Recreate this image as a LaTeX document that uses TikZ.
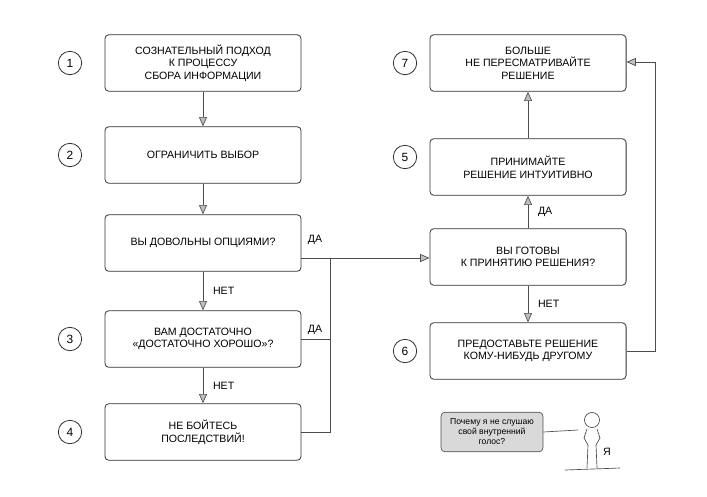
\documentclass[tikz,border=0pt]{standalone}
\usepackage{fontspec}
\setmainfont{Liberation Sans}
\usetikzlibrary{arrows.meta}

\begin{document}
\begin{tikzpicture}[x=0.0265cm, y=-0.0265cm, thick,
	box/.style={draw=black!80, rounded corners=3pt, minimum width=5.2cm, minimum height=1.5cm, align=center, font=\footnotesize, line width=0.6pt},
	num/.style={draw=black!80, circle, minimum size=0.62cm, inner sep=0pt, font=\small, line width=0.6pt},
	lbl/.style={font=\footnotesize},
	arr/.style={-{Triangle[open, fill=black!25, length=7pt, width=6pt]}, draw=black!70, line width=0.5pt},
	ln/.style={draw=black!70, line width=0.5pt}]
		\useasboundingbox (0,0) rectangle (707,496);

		\node[box] (a1) at (203,63) {СОЗНАТЕЛЬНЫЙ ПОДХОД\\К ПРОЦЕССУ\\СБОРА ИНФОРМАЦИИ};
		\node[box] (a2) at (203,155) {ОГРАНИЧИТЬ ВЫБОР};
		\node[box] (a3) at (203,243) {ВЫ ДОВОЛЬНЫ ОПЦИЯМИ?};
		\node[box] (a4) at (203,339) {ВАМ ДОСТАТОЧНО\\«ДОСТАТОЧНО ХОРОШО»?};
		\node[box] (a5) at (203,432) {НЕ БОЙТЕСЬ\\ПОСЛЕДСТВИЙ!};
		\node[box] (b1) at (528,63) {БОЛЬШЕ\\НЕ ПЕРЕСМАТРИВАЙТЕ\\РЕШЕНИЕ};
		\node[box] (b2) at (528,167) {ПРИНИМАЙТЕ\\РЕШЕНИЕ ИНТУИТИВНО};
		\node[box] (b3) at (528,257) {ВЫ ГОТОВЫ\\К ПРИНЯТИЮ РЕШЕНИЯ?};
		\node[box] (b4) at (528,351) {ПРЕДОСТАВЬТЕ РЕШЕНИЕ\\КОМУ-НИБУДЬ ДРУГОМУ};

		\node[num] (n1) at (70,63) {1};
		\node[num] (n2) at (70,155) {2};
		\node[num] (n3) at (70,339) {3};
		\node[num] (n4) at (70,432) {4};
		\node[num] (n7) at (405,63) {7};
		\node[num] (n5) at (405,157) {5};
		\node[num] (n6) at (405,351) {6};

		\coordinate (j1) at (330,258);
		\coordinate (j2) at (330,432);
		\coordinate (k1) at (655,351);
		\coordinate (k2) at (655,62);

		\draw[arr] (a1.south) -- (a2.north);
		\draw[arr] (a2.south) -- (a3.north);
		\draw[arr] (a3.south) -- node[lbl, right=4pt] {НЕТ} (a4.north);
		\draw[arr] (a4.south) -- node[lbl, right=4pt] {НЕТ} (a5.north);
		\draw[ln] (a3.east |- j1) -- (j1);
		\draw[arr] (j1) -- (b3.west |- j1);
		\draw[ln] (a4.east) -- (a4.east -| j1);
		\draw[ln] (a5.east) -- (j2) -- (j1);
		\node[lbl] (d1) at (315,240) {ДА};
		\node[lbl] (d2) at (315,330) {ДА};
		\draw[arr] (b3.north) -- node[lbl, right=4pt] {ДА} (b2.south);
		\draw[arr] (b2.north) -- (b1.south);
		\draw[arr] (b3.south) -- node[lbl, right=4pt] {НЕТ} (b4.north);
		\draw[ln] (b4.east) -- (k1) -- (k2);
		\draw[arr] (k2) -- (b1.east |- k2);

		% me
		\node[draw=black!70, fill=black!15, rounded corners=3pt, align=center, font=\fontsize{6.5}{7.5}\selectfont, minimum width=2.7cm, minimum height=1.05cm, line width=0.5pt] (bub) at (492,432) {Почему я не слушаю\\свой внутренний\\голос?};
		\node[draw=black!70, circle, minimum size=0.4cm, inner sep=0pt, line width=0.5pt] (head) at (592,420) {};
		\draw[ln] (bub.east) -- (578,430);
		\draw[ln] (head.south) ++(-5,1) -- (584,438) -- (588,445) -- (587,468);
		\draw[ln] (head.south) ++(5,1) -- (600,438) -- (596,445) -- (597,468);
		\draw[ln] (565,470) -- (620,468);
		\node[lbl] (me) at (607,452) {Я};
\end{tikzpicture}
\end{document}
